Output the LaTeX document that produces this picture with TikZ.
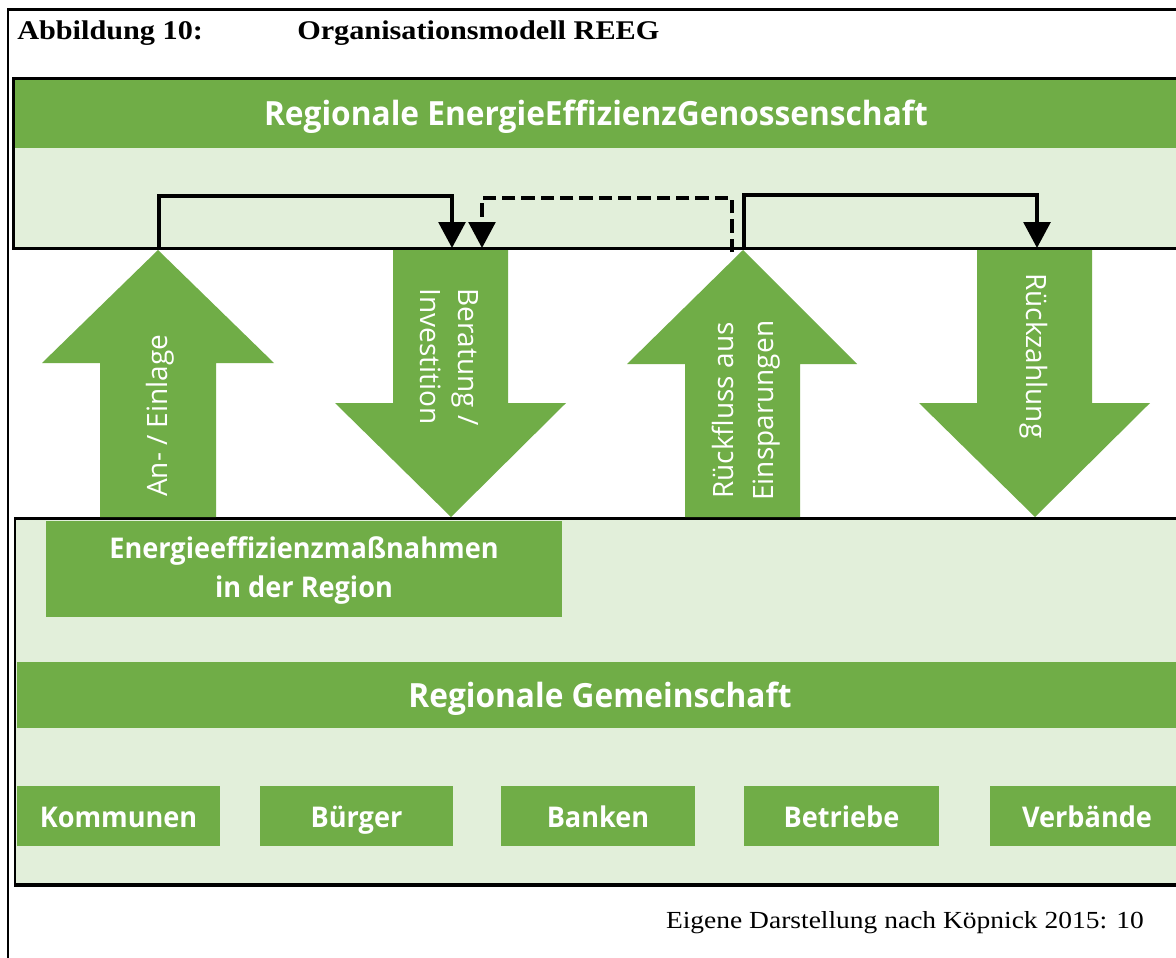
\documentclass[tikz,border=0pt]{standalone}
\usepackage{fontspec}
\setmainfont{Liberation Serif}
\newfontfamily\capfont[FakeStretch=1.12]{Liberation Serif}
\newfontfamily\headfont[FakeStretch=0.95]{Open Sans}
\newfontfamily\lblfont{Open Sans}
\usetikzlibrary{arrows.meta}
\definecolor{grn}{RGB}{112,173,71}
\definecolor{lgrn}{RGB}{226,239,218}
\tikzset{
  titletext/.style={font=\capfont\bfseries\fontsize{20.25}{24}\selectfont, inner sep=0pt, anchor=base west},
  foottext/.style={font=\capfont\fontsize{18.4}{22}\selectfont, inner sep=0pt, anchor=base east},
  headtext/.style={font=\headfont\bfseries\fontsize{25}{30}\selectfont, text=white, inner sep=0pt, anchor=base},
  boxtext/.style={font=\headfont\bfseries\fontsize{21.4}{27}\selectfont, text=white, inner sep=0pt, anchor=base},
  smallbox/.style={font=\headfont\bfseries\fontsize{21.4}{27}\selectfont, text=white, fill=grn, inner sep=0pt,
     minimum height=45pt, text height=16.5pt, text depth=0pt},
  flowtext/.style={font=\lblfont\fontsize{21}{27}\selectfont, text=white, inner sep=0pt, anchor=base west},
  link/.style={line width=3pt, -{Triangle[width=20pt,length=19.5pt]}},
  dlink/.style={line width=2.8pt, dash pattern=on 10pt off 4.5pt, -{Triangle[width=20pt,length=19.5pt]}},
  bigarrow/.style={fill=grn, draw=none},
}
\begin{document}
\begin{tikzpicture}[x=0.75pt,y=-0.75pt]
\useasboundingbox (0,0) rectangle (1176,957);
\clip (0,0) rectangle (1176,957);
\fill[white] (0,0) rectangle (1176,957);
% outer frame
\draw[line width=1.9pt] (8,970) -- (8,9.5) -- (1190,9.5);
% title
\node[titletext] (t1) at (17,39) {Abbildung 10:};
\node[titletext] (t2) at (297,39) {Organisationsmodell REEG};
% REEG box
\fill[lgrn] (13,78) rectangle (1190,248);
\fill[grn] (13,78) rectangle (1190,148);
\draw[line width=2.25pt] (13,78) rectangle (1190,248);
\node[headtext] (reeg) at (596,125) {Regionale EnergieEffizienzGenossenschaft};
% lower box
\fill[lgrn] (15,518.5) rectangle (1190,885);
\draw[line width=1.6pt] (1190,518.5) -- (15,518.5) -- (15,885);
\draw[line width=3pt] (14,885) -- (1190,885);
% big arrows
\fill[bigarrow] (158,250) -- (274,363) -- (216,363) -- (216,517) -- (100,517) -- (100,363) -- (42,363) -- cycle;
\fill[bigarrow] (393,250) -- (508,250) -- (508,403) -- (566,403) -- (451,517) -- (335,403) -- (393,403) -- cycle;
\fill[bigarrow] (743,250) -- (857,364) -- (800,364) -- (800,517) -- (685,517) -- (685,364) -- (627,364) -- cycle;
\fill[bigarrow] (977,250) -- (1092,250) -- (1092,403) -- (1150,403) -- (1035,517) -- (919,403) -- (977,403) -- cycle;
% arrow labels
\node[flowtext, rotate=90] (l1) at (167,497) {An- / Einlage};
\node[flowtext, rotate=-90] (l2a) at (458,288) {Beratung /};
\node[flowtext, rotate=-90] (l2b) at (420,288) {Investition};
\node[flowtext, rotate=90] (l3a) at (733,499) {Rückfluss aus};
\node[flowtext, rotate=90] (l3b) at (773,501) {Einsparungen};
\node[flowtext, rotate=-90] (l4) at (1026,273) {Rückzahlung};
% connectors
\coordinate (upA) at (159,250);
\coordinate (dnB1) at (452,248);
\coordinate (dnB2) at (482,248);
\coordinate (upC) at (744,250);
\coordinate (upCd) at (732,252);
\coordinate (dnD) at (1037,248);
\draw[link] (upA) -- ++(0,-54) -| (dnB1);
\draw[dlink] (upCd) -- ++(0,-54) -| (dnB2);
\draw[link] (upC) -- ++(0,-55) -| (dnD);
% Energieeffizienz box
\fill[grn] (46,520.5) rectangle (562,617);
\node[boxtext] (eff1) at (304,558) {Energieeffizienzmaßnahmen};
\node[boxtext] (eff2) at (304,597) {in der Region};
% Regionale Gemeinschaft
\fill[grn] (16.5,662) rectangle (1190,728);
\node[headtext] (rg) at (600,707) {Regionale Gemeinschaft};
% members
\node[smallbox, minimum width=152.25pt] (kom) at (118.5,816) {Kommunen};
\node[smallbox, minimum width=144.75pt] (bur) at (356.5,816) {Bürger};
\node[smallbox, minimum width=145.5pt] (ban) at (598,816) {Banken};
\node[smallbox, minimum width=146.25pt] (bet) at (841.5,816) {Betriebe};
\node[smallbox, minimum width=145.5pt] (ver) at (1087,816) {Verbände};
% footer
\node[foottext] (src) at (1144,928) {Eigene Darstellung nach Köpnick 2015: 10};
\end{tikzpicture}
\end{document}
